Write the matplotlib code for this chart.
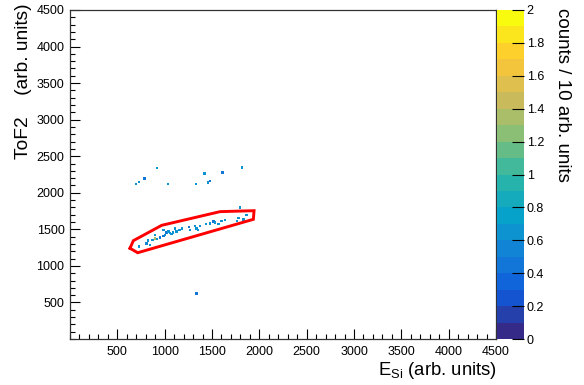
import numpy as np
import matplotlib
matplotlib.use("Agg")
import matplotlib.pyplot as plt
from matplotlib.colors import LinearSegmentedColormap, Normalize
from matplotlib.ticker import MultipleLocator, FuncFormatter
import matplotlib.cm as cm

plt.rcParams['font.family'] = ['Liberation Sans', 'DejaVu Sans']
plt.rcParams['mathtext.fontset'] = 'custom'
plt.rcParams['mathtext.rm'] = 'Liberation Sans'
plt.rcParams['mathtext.it'] = 'Liberation Sans:italic'

# ---- data: events (E_Si, ToF2, counts-colour value) ----
band_x = [732, 827, 845, 810, 873, 898, 922, 951, 986, 1003, 1021, 1039, 1056,
          1074, 1091, 1127, 1155, 986, 898, 1109, 1180, 1260, 1268, 1320, 1338,
          1355, 1373, 1437, 1479, 1514, 1532, 1567, 1602, 1637, 1761, 1778, 1831, 1866]
band_y = [1263, 1345, 1286, 1309, 1354, 1377, 1364, 1391, 1409, 1422, 1454, 1468, 1446,
          1436, 1454, 1468, 1491, 1491, 1422, 1514, 1514, 1528, 1491, 1546, 1514,
          1491, 1546, 1573, 1582, 1605, 1591, 1573, 1618, 1628, 1618, 1651, 1637, 1692]
band_v = [0.6, 0.6, 0.6, 0.5, 0.6, 1.3, 0.6, 0.4, 0.4, 0.6, 0.4, 0.6, 0.6,
          0.6, 0.6, 0.6, 0.6, 0.6, 0.6, 0.6, 0.6, 0.4, 0.6, 0.6, 0.6,
          0.6, 0.6, 0.6, 0.6, 0.4, 0.6, 0.6, 0.6, 0.6, 0.6, 0.6, 0.6, 0.6]

upper_x = [697, 729, 789, 916, 1038, 1331, 1419, 1458, 1482, 1613, 1814, 1796, 1338]
upper_y = [2120, 2147, 2198, 2335, 2120, 2120, 2261, 2138, 2161, 2275, 2343, 1801, 625]
upper_v = [0.6, 0.6, 0.4, 0.6, 0.6, 0.6, 0.6, 0.6, 0.4, 0.4, 0.6, 0.6, 0.4]

# ---- graphical cut (gate) vertices ----
gate_x = [634, 715, 1937, 1944, 1585, 969, 669, 634]
gate_y = [1241, 1180, 1637, 1755, 1742, 1555, 1345, 1241]

cbar_ticks = [0, 0.2, 0.4, 0.6, 0.8, 1.0, 1.2, 1.4, 1.6, 1.8, 2.0]
axis_ticks = [500, 1000, 1500, 2000, 2500, 3000, 3500, 4000, 4500]

# ROOT kBird palette
bird = [(0.2082, 0.1664, 0.5293), (0.0592, 0.3599, 0.8684), (0.0780, 0.5041, 0.8385),
        (0.0232, 0.6419, 0.7914), (0.1802, 0.7178, 0.6425), (0.5301, 0.7492, 0.4662),
        (0.8186, 0.7328, 0.3499), (0.9956, 0.7862, 0.1968), (0.9764, 0.9832, 0.0539)]
cmap = LinearSegmentedColormap.from_list('kBird', bird).resampled(20)
norm = Normalize(vmin=0, vmax=2)

fig = plt.figure(figsize=(5.84, 3.85), dpi=100)
ax = fig.add_axes([70/584, 46/385, 426/584, 329/385])

allx = band_x + upper_x
ally = band_y + upper_y
allv = band_v + upper_v
ax.scatter(allx, ally, c=allv, cmap=cmap, norm=norm, marker='s', s=3.0,
           linewidths=0, zorder=2)
ax.plot(gate_x, gate_y, color='#ff0000', lw=2.1, zorder=3, solid_joinstyle='miter')

ax.set_xlim(0, 4500)
ax.set_ylim(0, 4500)
ax.set_xticks(axis_ticks)
ax.set_yticks(axis_ticks)
ax.xaxis.set_minor_locator(MultipleLocator(100))
ax.yaxis.set_minor_locator(MultipleLocator(100))
ax.tick_params(which='both', direction='in', top=False, right=False,
               labelsize=9, colors='black', width=0.8, pad=4)
ax.tick_params(which='major', length=7)
ax.tick_params(which='minor', length=3.5)
ax.tick_params(axis='x', pad=5)
for sp in ax.spines.values():
    sp.set_linewidth(0.9)
    sp.set_color('#333333')

fig.text(24/584, 1 - 3/385, 'ToF2    (arb. units)', rotation=90,
         ha='center', va='top', fontsize=13.8)
fig.text(497/584, 1 - 375/385, r'E$_{\mathrm{Si}}$ (arb. units)',
         ha='right', va='baseline', fontsize=13.3)

cax = fig.add_axes([497/584, 46/385, 27/584, 329/385])
cb = fig.colorbar(cm.ScalarMappable(norm=norm, cmap=cmap), cax=cax)
cb.outline.set_visible(False)
cb.set_ticks(cbar_ticks)
cb.ax.yaxis.set_major_formatter(FuncFormatter(lambda v, p: f"{v:g}"))
cb.ax.tick_params(direction='in', length=9, width=0.8, labelsize=9, pad=2,
                  colors='black')
cb.ax.minorticks_off()
fig.text(562/584, 1 - 8/385, 'counts / 10 arb. units', rotation=-90,
         ha='center', va='top', fontsize=13.5)

fig.savefig('out.png', dpi=100)
